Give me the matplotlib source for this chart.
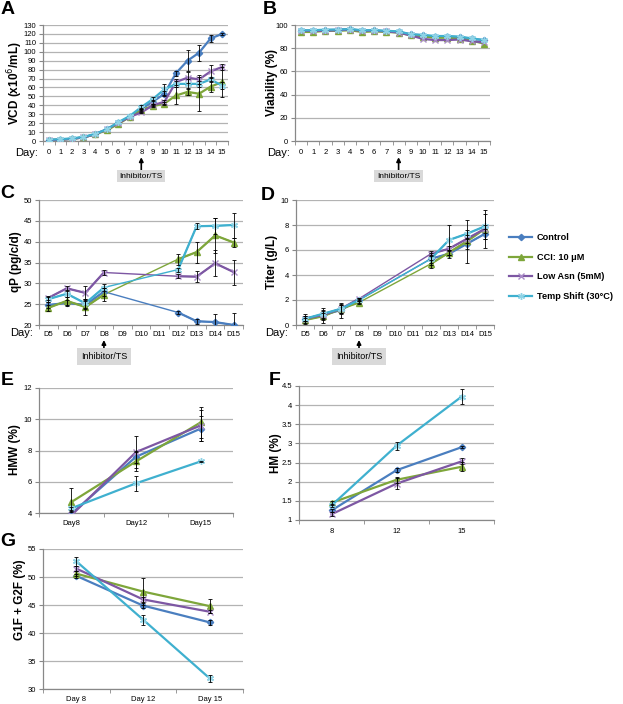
import numpy as np
import matplotlib.pyplot as plt
from matplotlib.lines import Line2D

plt.rcParams['font.family'] = ['Liberation Sans', 'DejaVu Sans']

nan = np.nan

# series shared by all panels
names = ["Control", "CCI: 10 \u03bcM", "Low Asn (5mM)", "Temp Shift (30\u00b0C)"]
colors = ["#4a7ebf", "#7ea63a", "#7d57a3", "#3fb0cf"]
edge_colors = ["#4a7ebf", "#7ea63a", "#a88bc7", "#8fd3e6"]
markers = ["D", "^", "x", (6, 2, 0)]
msizes = [3.2, 4.2, 4.2, 5.0]

# A - viable cell density
days_a = [str(d) for d in range(16)]
vcd_ctrl = [1, 1.5, 2.5, 4, 7.5, 13, 20, 27, 36, 44, 53, 76, 90, 99, 115, 120]
vcd_cci = [1, 1.5, 2.5, 4, 7.5, 12, 19, 27, 35, 39, 42, 51, 55, 53, 61, 66]
vcd_asn = [1, 1.5, 2.5, 4, 7.5, 13, 20, 27, 32, 40, 44, 66, 71, 69, 78, 83]
vcd_ts = [1.5, 2, 3, 4.5, 8, 13, 21, 28, 38, 47, 58, 64, 64, 64, 69, 62]
vcd_ctrl_err = [0, 0, 0, 0, 0, 0, 0, 0, 1, 2, 3, 3, 12, 9, 4, 1.5]
vcd_cci_err = [0, 0, 0, 0, 0, 0, 0, 0, 1, 1, 2, 9, 4, 19, 6, 17]
vcd_asn_err = [0, 0, 0, 0, 0, 0, 0, 0, 1, 1, 2, 3, 6, 5, 7, 3]
vcd_ts_err = [0, 0, 0, 0, 0, 0, 0, 0, 2, 2, 6, 3, 6, 3, 3, 4]

# B - viability
via_ctrl = [95, 95, 95.5, 96, 96.5, 95, 95.5, 94.5, 94, 92, 91, 90, 90, 89.5, 88, 87]
via_cci = [94, 94, 95, 95, 95.5, 94, 94.5, 94, 93.5, 91, 90, 89, 89, 88, 86.5, 84]
via_asn = [95, 95, 95, 95.5, 96, 95, 95, 94.5, 93.5, 91, 88, 87, 87, 87.5, 86, 85]
via_ts = [95.5, 95.5, 96, 96, 96.5, 95.5, 95.5, 95, 94.5, 92, 91.5, 90.5, 90.5, 90, 88.5, 87]

# C - specific productivity, D - titer
days_cd = ["D5", "D6", "D7", "D8", "D9", "D10", "D11", "D12", "D13", "D14", "D15"]
qp_ctrl = [24.8, 25.3, 24.8, 28.0, nan, nan, nan, 23.0, 20.9, 20.7, 20.0]
qp_cci = [24.1, 25.8, 24.3, 27.3, nan, nan, nan, 35.8, 37.5, 41.5, 39.8]
qp_asn = [26.5, 28.8, 27.7, 32.6, nan, nan, nan, 31.7, 31.6, 34.8, 32.7]
qp_ts = [26.2, 27.5, 25.2, 29.0, nan, nan, nan, 33.3, 43.7, 43.8, 44.0]
qp_ctrl_err = [0.8, 0.8, 1.0, 1.0, 0, 0, 0, 0.3, 0.6, 2.0, 3.0]
qp_cci_err = [0.8, 1.0, 2.0, 1.5, 0, 0, 0, 1.3, 2.5, 4.3, 1.0]
qp_asn_err = [0.5, 0.6, 1.6, 0.7, 0, 0, 0, 0.5, 1.3, 3.1, 3.0]
qp_ts_err = [0.6, 0.8, 1.0, 0.8, 0, 0, 0, 0.5, 0.7, 2.0, 3.0]

titer_ctrl = [0.5, 0.8, 1.2, 2.0, nan, nan, nan, 5.3, 5.7, 6.5, 7.3]
titer_cci = [0.4, 0.7, 1.3, 1.8, nan, nan, nan, 4.9, 5.8, 6.7, 7.7]
titer_asn = [0.5, 0.8, 1.3, 2.1, nan, nan, nan, 5.7, 6.1, 6.9, 7.7]
titer_ts = [0.5, 0.9, 1.3, 2.0, nan, nan, nan, 5.3, 6.8, 7.3, 7.9]
titer_ctrl_err = [0.4, 0.6, 0.6, 0.2, 0, 0, 0, 0.5, 0.3, 0.4, 0.4]
titer_cci_err = [0.2, 0.3, 0.4, 0.1, 0, 0, 0, 0.3, 0.2, 1.7, 1.5]
titer_asn_err = [0.2, 0.3, 0.3, 0.1, 0, 0, 0, 0.2, 0.2, 0.3, 0.3]
titer_ts_err = [0.2, 0.3, 0.3, 0.1, 0, 0, 0, 0.3, 1.2, 0.3, 1.0]

# E - HMW, F - HM, G - galactosylation
hmw_days = ["Day8", "Day12", "Day15"]
hmw_ctrl = [3.95, 7.6, 9.4]
hmw_cci = [4.7, 7.3, 9.8]
hmw_asn = [3.85, 7.9, 9.6]
hmw_ts = [4.3, 5.9, 7.3]
hmw_ctrl_err = [0.2, 0.4, 0.8]
hmw_cci_err = [0.9, 0.6, 1.0]
hmw_asn_err = [0.2, 1.0, 1.0]
hmw_ts_err = [0.1, 0.5, 0.05]

hm_days = ["8", "12", "15"]
hm_ctrl = [1.25, 2.3, 2.9]
hm_cci = [1.45, 2.05, 2.39]
hm_asn = [1.15, 1.95, 2.53]
hm_ts = [1.38, 2.94, 4.22]
hm_ctrl_err = [0.05, 0.05, 0.03]
hm_cci_err = [0.05, 0.08, 0.12]
hm_asn_err = [0.05, 0.15, 0.08]
hm_ts_err = [0.05, 0.1, 0.2]

gal_days = ["Day 8", "Day 12", "Day 15"]
gal_ctrl = [50.2, 44.9, 41.9]
gal_cci = [50.6, 47.4, 44.8]
gal_asn = [51.5, 46.0, 43.8]
gal_ts = [52.8, 42.4, 31.9]
gal_ctrl_err = [0.3, 0.5, 0.4]
gal_cci_err = [0.5, 2.4, 1.3]
gal_asn_err = [0.4, 0.4, 0.3]
gal_ts_err = [0.8, 0.9, 0.6]

W, H = 623, 704
fig = plt.figure(figsize=(W / 100, H / 100), dpi=100)


def px_axes(x0, y0, x1, y1):
    return fig.add_axes([x0 / W, 1 - y1 / H, (x1 - x0) / W, (y1 - y0) / H])


def setup(ax, cats, ymin, ymax, ystep, ylabels=None, xpad=3):
    n = len(cats)
    ax.set_xlim(-0.5, n - 0.5)
    ax.set_ylim(ymin, ymax)
    ax.set_xticks(range(n))
    ax.set_xticklabels(cats)
    ax.set_xticks(np.arange(-0.5, n, 1), minor=True)
    yt = np.arange(ymin, ymax + ystep / 2, ystep)
    ax.set_yticks(yt)
    if ylabels is not None:
        ax.set_yticklabels(ylabels)
    ax.tick_params(axis='x', which='major', length=0, labelsize=5.5, pad=xpad)
    ax.tick_params(axis='x', which='minor', length=3, color='#888888')
    ax.tick_params(axis='y', length=3, color='#888888', labelsize=5.5, pad=2)
    ax.grid(axis='y', color='#b3b3b3', lw=0.9)
    ax.set_axisbelow(True)
    for s in ['top', 'right']:
        ax.spines[s].set_visible(False)
    for s in ['left', 'bottom']:
        ax.spines[s].set_color('#888888')
        ax.spines[s].set_linewidth(0.9)


def draw(ax, ys, errs=None, connect_gaps=False):
    for i, y in enumerate(ys):
        y = np.array(y, float)
        x = np.arange(len(y))
        ok = ~np.isnan(y)
        if connect_gaps:
            ax.plot(x[ok], y[ok], color=colors[i], lw=1.0, zorder=2)
        ax.plot(x, y, color=colors[i], lw=1.6, marker=markers[i], ms=msizes[i],
                mfc=edge_colors[i], mec=edge_colors[i], mew=1.0, zorder=3)
        if errs is not None:
            e = np.array(errs[i], float)
            keep = ok & (e > 0)
            ax.errorbar(x[keep], y[keep], yerr=e[keep], fmt='none', ecolor='black',
                        elinewidth=0.6, capsize=1.5, capthick=0.6, zorder=4)


def inhibitor(ax, xpos, tip, box, fs, pad):
    ax.annotate('Inhibitor/TS', xy=(xpos, tip), xycoords=('data', 'axes fraction'),
                xytext=(xpos, box), textcoords=('data', 'axes fraction'),
                ha='center', va='center', fontsize=fs,
                bbox=dict(boxstyle='square,pad=%s' % pad, fc='#d9d9d9', ec='none'),
                arrowprops=dict(arrowstyle='-|>', color='black', lw=1.2, mutation_scale=6,
                                shrinkA=0, shrinkB=0),
                annotation_clip=False)


def fig_text(x, y, s, **kw):
    fig.text(x / W, 1 - y / H, s, **kw)


# A
axA = px_axes(43, 25, 228, 141)
setup(axA, days_a, 0, 130, 10, xpad=6)
draw(axA, [vcd_ctrl, vcd_cci, vcd_asn, vcd_ts],
     [vcd_ctrl_err, vcd_cci_err, vcd_asn_err, vcd_ts_err])
inhibitor(axA, 8, -0.14, -0.305, 6, 0.3)

# B
axB = px_axes(295, 25, 490, 141)
setup(axB, days_a, 0, 100, 20, xpad=6)
draw(axB, [via_ctrl, via_cci, via_asn, via_ts])
inhibitor(axB, 8, -0.14, -0.305, 6, 0.3)

# C
axC = px_axes(39, 200, 243, 325)
setup(axC, days_cd, 20, 50, 5, xpad=4)
draw(axC, [qp_ctrl, qp_cci, qp_asn, qp_ts],
     [qp_ctrl_err, qp_cci_err, qp_asn_err, qp_ts_err], connect_gaps=True)
inhibitor(axC, 3, -0.12, -0.25, 6.5, 0.45)

# D
axD = px_axes(296, 200, 494, 325)
setup(axD, days_cd, 0, 10, 2, xpad=4)
draw(axD, [titer_ctrl, titer_cci, titer_asn, titer_ts],
     [titer_ctrl_err, titer_cci_err, titer_asn_err, titer_ts_err], connect_gaps=True)
inhibitor(axD, 3, -0.12, -0.25, 6.5, 0.45)

# E
axE = px_axes(39, 388, 233, 513)
setup(axE, hmw_days, 4, 12, 2, xpad=5)
draw(axE, [hmw_ctrl, hmw_cci, hmw_asn, hmw_ts],
     [hmw_ctrl_err, hmw_cci_err, hmw_asn_err, hmw_ts_err])

# F
axF = px_axes(299, 386, 494, 520)
setup(axF, hm_days, 1, 4.5, 0.5,
      ylabels=["1", "1.5", "2", "2.5", "3", "3.5", "4", "4.5"], xpad=6)
draw(axF, [hm_ctrl, hm_cci, hm_asn, hm_ts],
     [hm_ctrl_err, hm_cci_err, hm_asn_err, hm_ts_err])

# G
axG = px_axes(43, 549, 243, 689)
setup(axG, gal_days, 30, 55, 5, xpad=5)
draw(axG, [gal_ctrl, gal_cci, gal_asn, gal_ts],
     [gal_ctrl_err, gal_cci_err, gal_asn_err, gal_ts_err])

# axis titles
ylab = dict(rotation=90, ha='center', va='center', fontsize=8.5, fontweight='bold')
fig_text(15, 83, "VCD (x10$^{6}$/mL)", **ylab)
fig_text(272, 83, "Viability (%)", **ylab)
fig_text(16, 262, "qP (pg/c/d)", **ylab)
fig_text(272, 262, "Titer (g/L)", **ylab)
fig_text(15, 450, "HMW (%)", **ylab)
fig_text(276, 453, "HM (%)", **ylab)
fig_text(20, 600, "G1F + G2F (%)", **ylab)

for x, y in [(27, 153), (279, 153), (22, 333), (277, 333)]:
    fig_text(x, y, "Day:", ha='center', va='center', fontsize=8)

for s, x, y in [("A", 8, 9), ("B", 270, 9), ("C", 7, 193), ("D", 268, 195),
                ("E", 7, 381), ("F", 275, 381), ("G", 8, 542)]:
    fig_text(x, y, s, ha='center', va='center', fontsize=14, fontweight='bold')

handles = [Line2D([], [], color=colors[i], lw=1.6, marker=markers[i], ms=msizes[i],
                  mfc=edge_colors[i], mec=edge_colors[i]) for i in range(4)]
fig.legend(handles, names, loc='center left', bbox_to_anchor=(503 / W, 1 - 267 / H),
           frameon=False, prop={'size': 6.6, 'weight': 'bold'}, handlelength=2.5,
           handletextpad=0.5, labelspacing=1.15, borderpad=0.2)

fig.savefig("out.png", dpi=100)
